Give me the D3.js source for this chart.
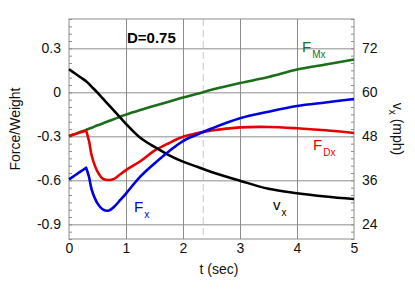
<!DOCTYPE html>
<html>
<head>
<meta charset="utf-8">
<script src="https://cdn.jsdelivr.net/npm/d3@7"></script>
<style>
  html, body { margin: 0; padding: 0; background: #fff; }
  svg text { font-family: "Liberation Sans", Arial, sans-serif; }
</style>
</head>
<body>
<svg id="chart" width="415" height="289"></svg>
<script>
// ---- data ----
const time = [0, 0.1, 0.2, 0.3, 0.35, 0.4, 0.5, 0.6, 0.7, 0.8, 0.9, 1.0, 1.25, 1.5, 1.75, 2, 2.25, 2.5, 3, 3.5, 4, 4.5, 5];
const fx   = [-0.593, -0.567, -0.541, -0.514, -0.575, -0.666, -0.757, -0.8, -0.806, -0.777, -0.734, -0.69, -0.575, -0.485, -0.403, -0.332, -0.288, -0.247, -0.177, -0.132, -0.093, -0.069, -0.046];
const fdx  = [-0.297, -0.285, -0.273, -0.261, -0.33, -0.434, -0.54, -0.59, -0.598, -0.588, -0.559, -0.53, -0.47, -0.398, -0.347, -0.303, -0.278, -0.26, -0.239, -0.236, -0.245, -0.259, -0.277];
const fmx  = [-0.3, -0.285, -0.27, -0.256, -0.248, -0.241, -0.225, -0.211, -0.196, -0.181, -0.166, -0.152, -0.121, -0.092, -0.064, -0.035, -0.01, 0.017, 0.063, 0.104, 0.155, 0.19, 0.224];
const vx   = [66.3, 65.2, 64.1, 63.0, 62.3, 61.5, 59.9, 58.2, 56.5, 54.8, 53.1, 51.4, 47.6, 45.1, 42.9, 41.1, 39.7, 38.3, 35.9, 33.7, 32.5, 31.6, 30.9];

const xTicks = [0, 1, 2, 3, 4, 5];
const leftTicks = [-0.9, -0.6, -0.3, 0, 0.3];
const leftTickLabels = ["-0.9", "-0.6", "-0.3", "0", "0.3"];
const rightTicks = [24, 36, 48, 60, 72];
const markerTime = 2.355;

// ---- layout ----
const L = 69, R = 354, T = 19, B = 239;
const svg = d3.select("#chart");

const x = d3.scaleLinear().domain([0, 5]).range([L, R]);
const y = d3.scaleLinear().domain([-1, 0.5]).range([B, T]);
const y2 = d3.scaleLinear().domain([20, 80]).range([B, T]);

const gridColor = "#8c8c8c";

// grid lines
svg.append("g").attr("transform", `translate(0,${B})`)
  .call(d3.axisBottom(x).tickValues(xTicks.slice(1, -1)).tickSize(-(B - T)).tickFormat(""))
  .call(g => g.select(".domain").remove())
  .call(g => g.selectAll("line").attr("stroke", gridColor).attr("stroke-width", 1));
svg.append("g").attr("transform", `translate(${L},0)`)
  .call(d3.axisLeft(y).tickValues(leftTicks).tickSize(-(R - L)).tickFormat(""))
  .call(g => g.select(".domain").remove())
  .call(g => g.selectAll("line").attr("stroke", gridColor).attr("stroke-width", 1));

// dashed marker line
svg.append("line")
  .attr("x1", x(markerTime)).attr("x2", x(markerTime))
  .attr("y1", T).attr("y2", B)
  .attr("stroke", "#c8c8c8").attr("stroke-width", 1)
  .attr("stroke-dasharray", "7,4");

// frame
svg.append("rect").attr("x", L).attr("y", T).attr("width", R - L).attr("height", B - T)
  .attr("fill", "none").attr("stroke", gridColor).attr("stroke-width", 1);

// minor ticks
const minorLeft = d3.range(-1, 0.5001, 0.05);
svg.append("g").attr("transform", `translate(${L},0)`)
  .call(d3.axisLeft(y).tickValues(minorLeft).tickSize(-3).tickFormat(""))
  .call(g => g.select(".domain").remove())
  .call(g => g.selectAll("line").attr("stroke", gridColor));
const minorRight = d3.range(20, 80.001, 2);
svg.append("g").attr("transform", `translate(${R},0)`)
  .call(d3.axisRight(y2).tickValues(minorRight).tickSize(-3).tickFormat(""))
  .call(g => g.select(".domain").remove())
  .call(g => g.selectAll("line").attr("stroke", gridColor));

// axes labels
const fontSize = 14;
svg.append("g").attr("transform", `translate(${L},0)`)
  .call(d3.axisLeft(y).tickValues(leftTicks).tickSize(0).tickPadding(8)
        .tickFormat((d, i) => leftTickLabels[i]))
  .call(g => g.select(".domain").remove())
  .call(g => g.selectAll("text").attr("font-size", fontSize).attr("fill", "#111")
        .attr("font-family", "Liberation Sans, Arial, sans-serif"));
svg.append("g").attr("transform", `translate(${R},0)`)
  .call(d3.axisRight(y2).tickValues(rightTicks).tickSize(0).tickPadding(8))
  .call(g => g.select(".domain").remove())
  .call(g => g.selectAll("text").attr("font-size", fontSize).attr("fill", "#111")
        .attr("font-family", "Liberation Sans, Arial, sans-serif"));
svg.append("g").attr("transform", `translate(0,${B})`)
  .call(d3.axisBottom(x).tickValues(xTicks).tickSize(0).tickPadding(4).tickFormat(d3.format("d")))
  .call(g => g.select(".domain").remove())
  .call(g => g.selectAll("text").attr("font-size", fontSize).attr("fill", "#111")
        .attr("font-family", "Liberation Sans, Arial, sans-serif"));

// series: smooth curves, with a sharp corner at the kink index (if any)
function pathFor(vals, sc, kink) {
  const gen = d3.line()
    .x(d => x(d[0]))
    .y(d => sc(d[1]))
    .curve(d3.curveCatmullRom.alpha(0.5));
  const pts = vals.map((v, i) => [time[i], v]);
  if (kink == null) return gen(pts);
  return gen(pts.slice(0, kink + 1)) + gen(pts.slice(kink)).replace(/^M/, "L");
}

const series = [
  { vals: fmx, sc: y, color: "#1a6e1a", kink: null },
  { vals: fdx, sc: y, color: "#e60000", kink: 3 },
  { vals: vx, sc: y2, color: "#000000", kink: 4 },
  { vals: fx, sc: y, color: "#0000e0", kink: 3 }
];
series.forEach(s => {
  svg.append("path").attr("d", pathFor(s.vals, s.sc, s.kink))
    .attr("fill", "none").attr("stroke", s.color).attr("stroke-width", 2.6)
    .attr("stroke-linejoin", "round");
});

// titles
svg.append("text").attr("transform", `translate(20,${(T + B) / 2}) rotate(-90)`)
  .attr("text-anchor", "middle").attr("font-size", 14).attr("fill", "#111")
  .text("Force/Weight");
svg.append("text").attr("x", 219).attr("y", 274)
  .attr("text-anchor", "middle").attr("font-size", 14).attr("fill", "#111")
  .text("t (sec)");
const rt = svg.append("text").attr("transform", `translate(393,${(T + B) / 2}) rotate(90)`)
  .attr("text-anchor", "middle").attr("font-size", 14).attr("fill", "#111");
rt.append("tspan").text("v");
rt.append("tspan").attr("font-size", 10).attr("dy", 4).text("x");
rt.append("tspan").attr("dy", -4).text(" (mph)");

svg.append("text").attr("x", 127).attr("y", 42.5)
  .attr("font-size", 15).attr("font-weight", "bold").attr("fill", "#000")
  .text("D=0.75");

function subLabel(px, py, main, sub, color) {
  const t = svg.append("text").attr("x", px).attr("y", py).attr("fill", color).attr("font-size", 15);
  t.append("tspan").text(main);
  t.append("tspan").attr("font-size", 10).attr("dy", 6).attr("dx", 1).text(sub);
}
subLabel(302, 52, "F", "Mx", "#1a6e1a");
subLabel(313, 150, "F", "Dx", "#e60000");
subLabel(134, 211.5, "F", "x", "#0000e0");
subLabel(273, 210, "v", "x", "#000000");
</script>
</body>
</html>
